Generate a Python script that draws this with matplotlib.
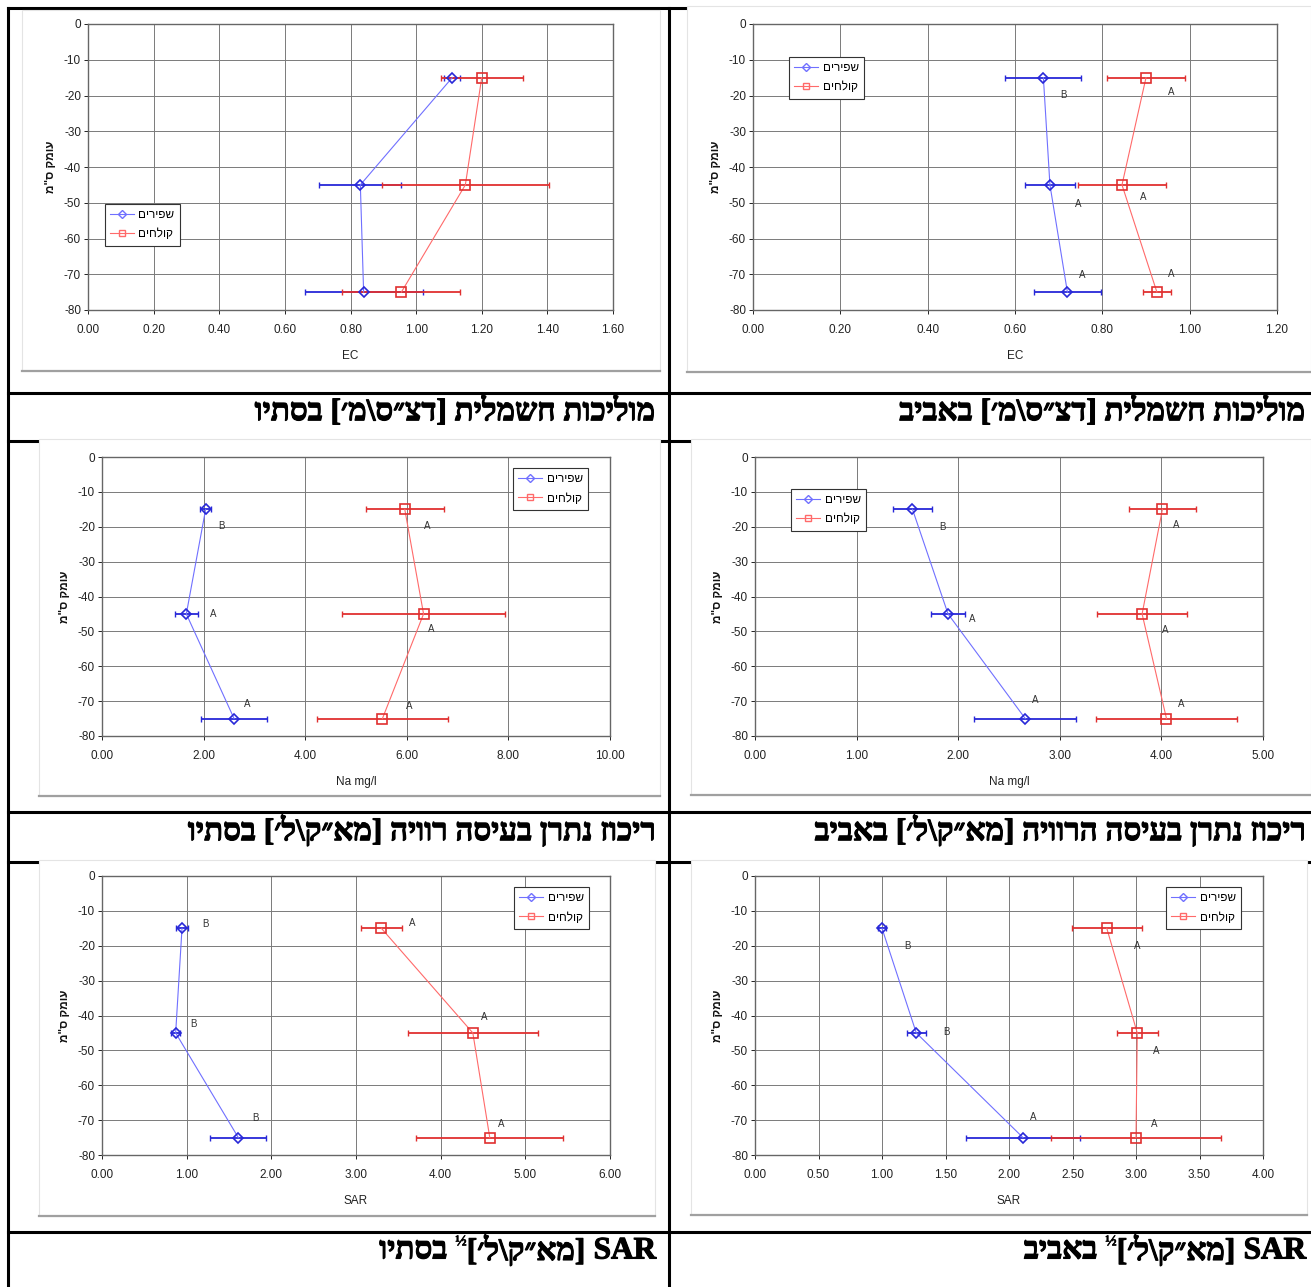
import numpy as np
import matplotlib
matplotlib.use("Agg")
import matplotlib.pyplot as plt
import matplotlib.patheffects as pe
from matplotlib.patches import Rectangle
from matplotlib.lines import Line2D

plt.rcParams['font.family'] = ['Liberation Sans', 'DejaVu Sans']
plt.rcParams['axes.unicode_minus'] = False

# depths (cm) shared by all charts
depth = [-15, -45, -75]

# EC autumn
ec_aut_shap = [1.11, 0.83, 0.84]
ec_aut_shap_err = [0.025, 0.125, 0.18]
ec_aut_kol = [1.20, 1.15, 0.955]
ec_aut_kol_err = [0.125, 0.255, 0.18]

# EC spring
ec_spr_shap = [0.665, 0.68, 0.72]
ec_spr_shap_err = [0.087, 0.058, 0.076]
ec_spr_kol = [0.90, 0.845, 0.925]
ec_spr_kol_err = [0.09, 0.10, 0.032]
ec_spr_letters = ["B", "A", "A", "A", "A", "A"]
ec_spr_let_x = [0.71, 0.745, 0.755, 0.958, 0.893, 0.958]
ec_spr_let_y = [-20, -50.3, -70.3, -19, -48.5, -70]

# Na autumn
na_aut_shap = [2.04, 1.66, 2.60]
na_aut_shap_err = [0.11, 0.22, 0.65]
na_aut_kol = [5.96, 6.33, 5.52]
na_aut_kol_err = [0.77, 1.6, 1.29]
na_aut_letters = ["B", "A", "A", "A", "A", "A"]
na_aut_let_x = [2.36, 2.18, 2.85, 6.41, 6.48, 6.04]
na_aut_let_y = [-19.7, -44.9, -70.9, -19.7, -49.4, -71.3]

# Na spring
na_spr_shap = [1.55, 1.90, 2.66]
na_spr_shap_err = [0.19, 0.17, 0.50]
na_spr_kol = [4.01, 3.81, 4.05]
na_spr_kol_err = [0.33, 0.44, 0.69]
na_spr_letters = ["B", "A", "A", "A", "A", "A"]
na_spr_let_x = [1.84, 2.14, 2.76, 4.15, 4.04, 4.20]
na_spr_let_y = [-20.1, -46.5, -69.7, -19.4, -49.6, -70.9]

# SAR autumn
sar_aut_shap = [0.945, 0.87, 1.61]
sar_aut_shap_err = [0.07, 0.05, 0.33]
sar_aut_kol = [3.30, 4.38, 4.58]
sar_aut_kol_err = [0.24, 0.77, 0.87]
sar_aut_letters = ["B", "B", "B", "A", "A", "A"]
sar_aut_let_x = [1.22, 1.08, 1.81, 3.67, 4.51, 4.71]
sar_aut_let_y = [-13.7, -42.4, -69.3, -13.6, -40.5, -71.1]

# SAR spring
sar_spr_shap = [1.00, 1.27, 2.11]
sar_spr_shap_err = [0.03, 0.075, 0.45]
sar_spr_kol = [2.77, 3.01, 3.00]
sar_spr_kol_err = [0.275, 0.16, 0.67]
sar_spr_letters = ["B", "B", "A", "A", "A", "A"]
sar_spr_let_x = [1.20, 1.51, 2.19, 3.01, 3.16, 3.14]
sar_spr_let_y = [-20, -44.6, -69.2, -20, -50.3, -71.1]

lbl_shap = "שפירים"
lbl_kol = "קולחים"
ylab = "עומק ס\"מ"


def vis(s):
    # visual order for right-to-left text
    mirror = {'[': ']', ']': '[', '(': ')', ')': '('}
    return ''.join(mirror.get(c, c) for c in s[::-1])


W, H = 1311, 1287
fig = plt.figure(figsize=(W / 100, H / 100), dpi=100)
bg = fig.add_axes([0, 0, 1, 1])
bg.set_xlim(0, W)
bg.set_ylim(H, 0)
bg.axis('off')
bg.set_zorder(0)

# table lines
lw_tab = 2.2
bg.plot([7.5, 7.5], [8, H], color='black', lw=lw_tab, zorder=1)
bg.plot([669, 669], [8, H], color='black', lw=lw_tab, zorder=1)
for yy in [8, 393, 441, 812, 862, 1232]:
    bg.plot([7.5, W], [yy, yy], color='black', lw=lw_tab, zorder=1)

# chart picture frames (they sit over the table lines, as in the document)
boxes = [(22, 10, 660, 371), (687, 6, 1311, 372),
         (39, 439, 660, 796), (691, 439, 1311, 795),
         (39, 860, 655, 1216), (691, 860, 1307, 1215)]
for l, t, r, b in boxes:
    bg.add_patch(Rectangle((l, t), r - l, b - t, facecolor='white',
                           edgecolor='#e4e4e4', lw=0.8, zorder=3))
    bg.plot([l, r], [b, b], color='#a0a0a0', lw=1.6, zorder=4)

# plot areas in pixels: left, top, right, bottom
ax_px = [(88, 24, 613, 310), (753, 24, 1277, 310),
         (102, 457, 610, 736), (755, 457, 1263, 736),
         (102, 876, 610, 1155), (755, 876, 1263, 1155)]

charts = [
    (ec_aut_shap, ec_aut_shap_err, ec_aut_kol, ec_aut_kol_err, None, None, None,
     np.arange(0, 1.61, 0.2), "EC", ('upper left', (0.032, 0.371))),
    (ec_spr_shap, ec_spr_shap_err, ec_spr_kol, ec_spr_kol_err,
     ec_spr_letters, ec_spr_let_x, ec_spr_let_y,
     np.arange(0, 1.21, 0.2), "EC", ('upper left', (0.069, 0.885))),
    (na_aut_shap, na_aut_shap_err, na_aut_kol, na_aut_kol_err,
     na_aut_letters, na_aut_let_x, na_aut_let_y,
     np.arange(0, 10.1, 2), "Na mg/l", ('upper right', (0.957, 0.96))),
    (na_spr_shap, na_spr_shap_err, na_spr_kol, na_spr_kol_err,
     na_spr_letters, na_spr_let_x, na_spr_let_y,
     np.arange(0, 5.1, 1), "Na mg/l", ('upper left', (0.071, 0.885))),
    (sar_aut_shap, sar_aut_shap_err, sar_aut_kol, sar_aut_kol_err,
     sar_aut_letters, sar_aut_let_x, sar_aut_let_y,
     np.arange(0, 6.1, 1), "SAR", ('upper right', (0.959, 0.96))),
    (sar_spr_shap, sar_spr_shap_err, sar_spr_kol, sar_spr_kol_err,
     sar_spr_letters, sar_spr_let_x, sar_spr_let_y,
     np.arange(0, 4.1, 0.5), "SAR", ('upper right', (0.957, 0.96))),
]

blue_e, blue_l = '#2828d8', '#7070ff'
red_e, red_l = '#e03030', '#ff6a6a'

for (l, t, r, b), ch in zip(ax_px, charts):
    shap, shap_err, kol, kol_err, lets, lx, ly, xt, xl, leg = ch
    ax = fig.add_axes([l / W, 1 - b / H, (r - l) / W, (b - t) / H])
    ax.set_zorder(5)
    ax.errorbar(shap, depth, xerr=shap_err, fmt='none', ecolor=blue_e,
                elinewidth=1.3, capsize=2, capthick=1, zorder=3)
    ax.errorbar(kol, depth, xerr=kol_err, fmt='none', ecolor=red_e,
                elinewidth=1.3, capsize=2, capthick=1, zorder=4)
    ax.plot(shap, depth, color=blue_l, lw=0.8, zorder=5)
    ax.plot(kol, depth, color=red_l, lw=0.8, zorder=5)
    ax.plot(shap, depth, ls='none', marker='D', ms=5.5, mfc='none',
            mec=blue_e, mew=1.2, zorder=6)
    ax.plot(kol, depth, ls='none', marker='s', ms=6.5, mfc='none',
            mec=red_e, mew=1.2, zorder=6)
    if lets is not None:
        for s, xx, yy in zip(lets, lx, ly):
            ax.text(xx, yy, s, fontsize=7, color='#333333',
                    ha='center', va='center', zorder=7)
    ax.set_xlim(xt[0], xt[-1])
    ax.set_ylim(-80, 0)
    ax.set_xticks(xt)
    ax.set_xticklabels(["%.2f" % v for v in xt])
    ax.set_yticks(np.arange(-80, 1, 10))
    ax.grid(True, color='#7a7a7a', lw=0.7)
    ax.set_axisbelow(True)
    for sp in ax.spines.values():
        sp.set_color('#666666')
        sp.set_linewidth(1.0)
    ax.tick_params(axis='both', labelsize=8.5, colors='#222222',
                   length=3, width=0.7)
    ax.tick_params(axis='x', pad=7)
    ax.tick_params(axis='y', pad=2)
    ax.set_xlabel(xl, fontsize=8.5, color='#222222', labelpad=10)
    ax.set_ylabel(vis(ylab), fontsize=8.5, fontweight='bold',
                  color='#111111', labelpad=5)
    h1 = Line2D([], [], color=blue_l, lw=0.8, marker='D', ms=4.5,
                mfc='none', mec=blue_l, mew=1)
    h2 = Line2D([], [], color=red_l, lw=0.8, marker='s', ms=5,
                mfc='none', mec=red_l, mew=1)
    lg = ax.legend([h1, h2], [vis(lbl_shap), vis(lbl_kol)], loc=leg[0],
                   bbox_to_anchor=leg[1], borderaxespad=0, fontsize=8.5,
                   frameon=True, fancybox=False, framealpha=1,
                   edgecolor='#333333', handlelength=2.0,
                   handletextpad=0.4, labelspacing=0.6, borderpad=0.45)
    lg.get_frame().set_linewidth(0.8)
    lg.set_zorder(10)

# captions (right to left pieces)
renderer = fig.canvas.get_renderer()
cap_font = ['Liberation Serif', 'DejaVu Sans']


def caption(x_right, y, pieces):
    x = x_right
    for txt, size, dy, gap in pieces:
        stroke = [pe.withStroke(linewidth=0.8 * size / 22.5, foreground='black')]
        tt = bg.text(x, y + dy, txt, ha='right', va='center', fontsize=size,
                     fontweight='bold', family=cap_font, zorder=6,
                     path_effects=stroke)
        x -= tt.get_window_extent(renderer=renderer).width + gap


cap_size = 22.5
caption(656, 412, [(vis("מוליכות חשמלית [דצ״ס\\מ׳] בסתיו"), cap_size, 0, 0)])
caption(1306, 412, [(vis("מוליכות חשמלית [דצ״ס\\מ׳] באביב"), cap_size, 0, 0)])
caption(656, 831, [(vis("ריכוז נתרן בעיסה רוויה [מא״ק\\ל׳] בסתיו"), cap_size, 0, 0)])
caption(1306, 831, [(vis("ריכוז נתרן בעיסה הרוויה [מא״ק\\ל׳] באביב"), cap_size, 0, 0)])
for xr, season in [(656, "בסתיו"), (1306, "באביב")]:
    caption(xr, 1251, [("SAR", cap_size, 0, 8),
                       (vis("[מא״ק\\ל׳]"), cap_size, 0, 0),
                       ("½", 11, -9, 8),
                       (vis(season), cap_size, 0, 0)])

fig.savefig("out.png", dpi=100)
